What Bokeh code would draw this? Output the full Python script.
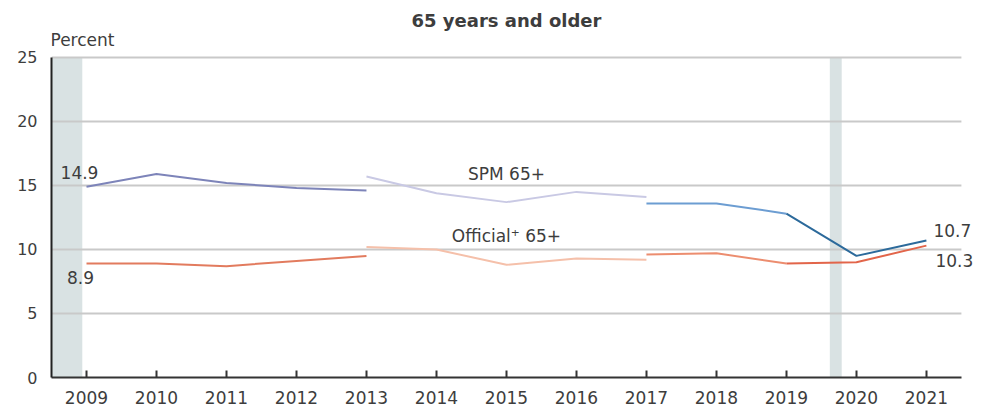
from bokeh.plotting import figure
from bokeh.models import BoxAnnotation, Label, FixedTicker, Range1d
from bokeh.embed import file_html
from bokeh.resources import INLINE

# ---- data ----
years_a = [2009, 2010, 2011, 2012, 2013]
years_b = [2013, 2014, 2015, 2016, 2017]
years_c = [2017, 2018, 2019, 2020, 2021]
spm_a = [14.9, 15.9, 15.2, 14.8, 14.6]
spm_b = [15.7, 14.4, 13.7, 14.5, 14.1]
spm_c = [13.6, 13.6, 12.8, 9.5, 10.7]
off_a = [8.9, 8.9, 8.7, 9.1, 9.5]
off_b = [10.2, 10.0, 8.8, 9.3, 9.2]
off_c = [9.6, 9.7, 8.9, 9.0, 10.3]
x_ticks = list(range(2009, 2022))
y_ticks = [0, 5, 10, 15, 20, 25]
recessions = [(2008.5, 2008.94), (2019.62, 2019.79)]

X_LO, X_HI = 2008.5, 2021.5
Y_LO, Y_HI = 0, 25

FONT = "DejaVu Sans"
TXT = "#3d3d3d"

p = figure(width=984, height=406, output_backend="svg", toolbar_location=None,
           x_range=Range1d(X_LO, 2021.83), y_range=Range1d(Y_LO, 29.45),
           min_border_left=51, min_border_right=0, min_border_top=0, min_border_bottom=29)
p.outline_line_color = None
p.background_fill_color = "white"

for l, r in recessions:
    p.add_layout(BoxAnnotation(left=l, right=r, bottom=Y_LO, top=Y_HI, fill_color="#d9e2e3",
                               fill_alpha=1, line_color=None, level="image"))

p.xgrid.grid_line_color = None
p.ygrid.grid_line_color = None
gy = y_ticks[1:]
p.segment(x0=[X_LO] * len(gy), y0=gy, x1=[X_HI] * len(gy), y1=gy,
          line_color="#c9c9c9", line_width=2)

p.xaxis.ticker = FixedTicker(ticks=x_ticks)
p.xaxis.bounds = (X_LO, X_HI)
p.xaxis.major_tick_in = 7
p.xaxis.major_tick_out = 0
p.xaxis.minor_tick_line_color = None
p.xaxis.major_tick_line_color = "#333333"
p.xaxis.major_tick_line_width = 2
p.xaxis.axis_line_color = "#333333"
p.xaxis.axis_line_width = 2
p.xaxis.major_label_standoff = 13
p.xaxis.major_label_text_font = FONT
p.xaxis.major_label_text_font_size = "17px"
p.xaxis.major_label_text_color = TXT

p.yaxis.ticker = FixedTicker(ticks=y_ticks)
p.yaxis.bounds = (Y_LO, Y_HI)
p.yaxis.major_tick_line_color = None
p.yaxis.minor_tick_line_color = None
p.yaxis.axis_line_color = "#222222"
p.yaxis.axis_line_width = 2
p.yaxis.major_label_standoff = 8
p.yaxis.major_label_text_font = FONT
p.yaxis.major_label_text_font_size = "16px"
p.yaxis.major_label_text_color = TXT

W = 2
p.line(years_a, spm_a, line_color="#7d84b9", line_width=W)
p.line(years_b, spm_b, line_color="#c9c9e4", line_width=W)
p.line(years_c[:3], spm_c[:3], line_color="#6c9dd2", line_width=W)
p.line(years_c[2:], spm_c[2:], line_color="#2c6a9b", line_width=W)
p.line(years_a, off_a, line_color="#e27b5e", line_width=W)
p.line(years_b, off_b, line_color="#f5c0aa", line_width=W)
p.line(years_c[:3], off_c[:3], line_color="#ec8d6f", line_width=W)
p.line(years_c[2:], off_c[2:], line_color="#e2654a", line_width=W)

def lab(x, y, t, xo=0, yo=0, align="center", size="17px", style="normal"):
    p.add_layout(Label(x=x, y=y, text=t, x_offset=xo, y_offset=yo, text_align=align,
                       text_baseline="middle", text_font=FONT, text_font_size=size,
                       text_color=TXT, text_font_style=style))

lab(years_a[0], spm_a[0], f"{spm_a[0]}", xo=-7, yo=14)
lab(years_a[0], off_a[0], f"{off_a[0]}", xo=-6, yo=-14)
lab(years_c[-1], spm_c[-1], f"{spm_c[-1]}", xo=7, yo=10, align="left")
lab(years_c[-1], off_c[-1], f"{off_c[-1]}", xo=9, yo=-15, align="left")
lab(2015, 15.9, "SPM 65+")
lab(2015, 11.05, "Official\u207a 65+")
lab(2015, 27.9, "65 years and older", size="18px", style="bold")
lab(X_LO, 26.4, "Percent", xo=-1, align="left", size="17px")

open("out.html", "w").write(file_html(p, INLINE))
